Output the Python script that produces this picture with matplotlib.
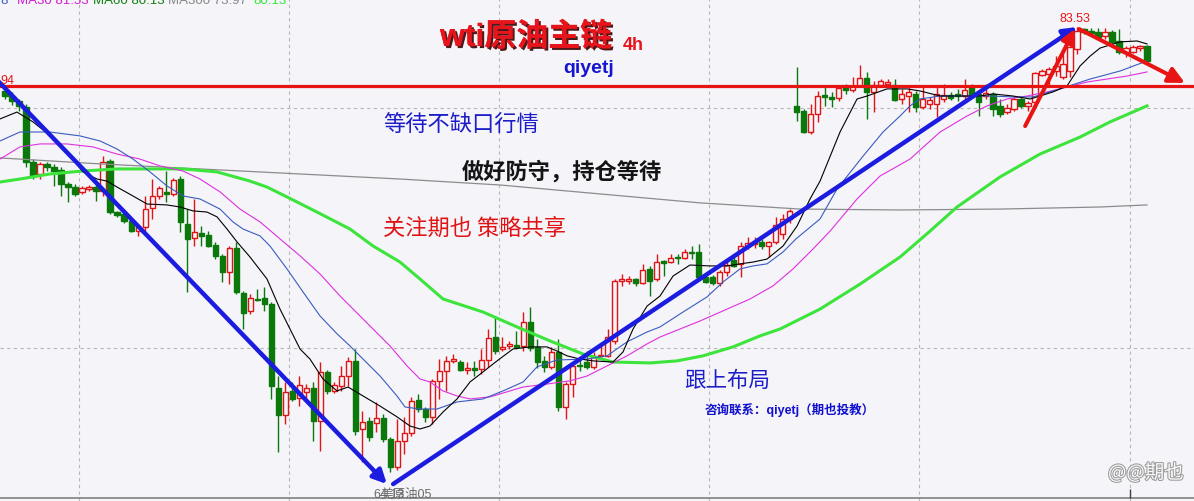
import matplotlib.pyplot as plt
import matplotlib.patheffects as pe

plt.rcParams['font.family'] = ['Liberation Sans', 'Noto Sans CJK SC', 'DejaVu Sans']

W, H = 1194, 502
BG = '#f4f4f9'

# 4h candles, wti crude (price)
opens = [
    80.74, 80.52, 80.30, 80.04, 77.64, 77.12, 77.56, 77.43, 77.29, 76.68,
    76.55, 76.34, 76.47, 76.55, 76.38, 77.69, 75.46, 75.38, 75.07, 74.63,
    74.81, 75.64, 76.16, 76.34, 76.25, 76.90, 74.94, 74.33, 74.55, 74.46,
    74.02, 73.55, 72.85, 73.89, 71.93, 71.15, 71.67, 71.71, 71.45, 67.79,
    66.61, 67.66, 67.35, 67.61, 67.79, 66.35, 68.49, 67.66, 67.88, 68.31,
    68.97, 66.00, 66.35, 66.26, 66.48, 65.57, 64.35, 65.48, 65.83, 67.27,
    66.87, 66.53, 68.10, 68.53, 68.97, 68.92, 68.57, 68.66, 68.62, 69.01,
    70.01, 69.49, 69.62, 69.66, 69.62, 70.67, 69.58, 68.97, 68.71, 69.36,
    66.96, 67.96, 68.79, 68.92, 68.71, 69.19, 69.19, 69.84, 72.45, 72.45,
    72.54, 72.37, 72.98, 72.54, 73.33, 73.28, 73.50, 73.46, 73.72, 73.72,
    72.63, 72.63, 72.37, 72.85, 73.37, 73.20, 73.98, 74.07, 74.16, 73.98,
    74.16, 74.50, 75.16, 80.09, 79.87, 78.95, 79.74, 80.56, 80.48, 80.43,
    80.87, 80.78, 80.96, 81.31, 80.70, 81.00, 81.04, 81.00, 80.39, 80.52,
    80.61, 80.04, 80.17, 80.17, 80.39, 80.56, 80.61, 80.52, 80.91, 80.61,
    80.52, 80.61, 80.09, 79.82, 79.95, 80.39, 80.09, 80.26, 81.44, 81.48,
    81.61, 81.35, 81.61, 82.57, 83.44, 83.35, 83.31, 83.14, 83.31, 82.92,
    82.40, 82.44, 82.61, 82.70]
closes = [
    80.52, 80.30, 80.09, 77.64, 77.03, 77.56, 77.43, 77.25, 76.68, 76.55,
    76.25, 76.51, 76.55, 76.38, 77.64, 75.46, 75.33, 75.07, 74.63, 74.81,
    75.59, 76.16, 76.51, 76.25, 76.86, 75.03, 74.29, 74.59, 74.42, 73.98,
    73.55, 72.85, 73.89, 71.98, 71.06, 71.71, 71.63, 71.45, 67.88, 66.61,
    67.61, 67.31, 67.92, 67.79, 66.35, 68.49, 67.66, 67.92, 68.31, 68.97,
    65.92, 66.31, 65.65, 66.48, 65.57, 64.35, 65.48, 65.83, 67.22, 66.87,
    66.53, 68.10, 68.53, 68.97, 69.05, 68.57, 68.66, 68.57, 69.01, 69.97,
    69.40, 69.58, 69.71, 69.58, 70.67, 69.53, 68.92, 68.71, 69.36, 66.96,
    67.96, 68.75, 68.75, 68.71, 69.19, 69.23, 70.01, 72.45, 72.54, 72.54,
    72.37, 72.93, 72.45, 73.28, 73.24, 73.46, 73.46, 73.72, 73.68, 72.63,
    72.41, 72.37, 72.85, 73.15, 73.11, 73.98, 74.11, 74.16, 73.98, 74.16,
    74.90, 75.16, 75.51, 79.82, 78.95, 79.74, 80.52, 80.48, 80.41, 80.87,
    80.78, 80.96, 81.31, 80.70, 81.00, 81.18, 81.13, 80.35, 80.61, 80.70,
    80.04, 80.39, 80.35, 80.61, 80.56, 80.43, 80.52, 80.78, 80.52, 80.26,
    80.65, 79.95, 79.74, 80.00, 80.39, 80.09, 80.22, 81.52, 81.61, 81.70,
    81.83, 81.92, 82.66, 83.35, 83.31, 83.27, 83.09, 83.31, 82.88, 82.44,
    82.61, 82.66, 82.70, 82.05]
highs = [
    80.91, 80.70, 80.39, 80.17, 77.77, 77.64, 77.64, 77.56, 77.43, 76.77,
    76.68, 76.60, 76.64, 76.68, 77.90, 77.77, 75.51, 75.46, 75.16, 74.94,
    76.16, 76.90, 76.60, 77.25, 76.95, 77.03, 75.59, 76.03, 74.85, 74.63,
    74.16, 73.63, 73.98, 74.16, 72.02, 71.89, 72.11, 72.19, 71.54, 68.31,
    68.05, 68.05, 68.31, 67.96, 68.05, 68.92, 68.57, 68.05, 68.75, 69.14,
    69.49, 66.79, 66.53, 67.18, 66.66, 65.65, 66.44, 66.53, 67.40, 67.53,
    66.96, 68.18, 69.05, 69.19, 69.27, 69.01, 68.92, 68.97, 69.49, 70.36,
    70.89, 70.01, 69.84, 70.27, 71.10, 71.32, 69.93, 69.19, 69.58, 69.93,
    68.05, 68.97, 69.05, 69.40, 69.36, 69.62, 70.36, 72.54, 72.76, 72.67,
    72.59, 73.20, 73.11, 73.63, 73.37, 73.63, 73.63, 73.85, 73.98, 74.07,
    72.72, 72.72, 72.93, 73.33, 73.50, 74.16, 74.37, 74.37, 74.29, 74.20,
    75.25, 75.38, 75.59, 81.79, 79.95, 80.17, 80.74, 80.96, 80.70, 80.96,
    81.04, 81.35, 81.87, 81.57, 81.18, 81.26, 81.26, 81.26, 80.83, 80.91,
    80.74, 80.91, 80.48, 80.96, 81.04, 80.70, 80.83, 81.26, 81.04, 80.70,
    81.04, 80.70, 80.39, 80.17, 80.48, 80.48, 80.30, 81.57, 81.70, 81.79,
    82.26, 82.35, 82.70, 83.53, 83.50, 83.49, 83.48, 83.47, 83.40, 83.45,
    82.70, 82.74, 82.74, 82.74]
lows = [
    80.39, 80.13, 79.87, 77.43, 76.90, 76.90, 77.25, 76.60, 76.16, 75.90,
    76.16, 76.25, 76.38, 75.94, 76.16, 75.38, 75.25, 74.98, 74.59, 74.42,
    74.63, 75.16, 76.03, 75.90, 76.16, 74.59, 71.98, 73.98, 73.98, 73.94,
    73.41, 72.41, 72.32, 71.89, 70.36, 71.02, 71.58, 71.15, 67.31, 65.00,
    66.22, 67.22, 67.00, 67.18, 65.48, 65.04, 67.53, 67.57, 67.66, 67.88,
    65.74, 64.56, 65.48, 65.87, 65.44, 64.13, 64.22, 64.91, 65.70, 66.74,
    66.31, 66.22, 67.31, 67.66, 68.88, 68.53, 68.40, 68.31, 68.40, 68.71,
    69.27, 69.40, 69.49, 69.49, 69.40, 69.40, 68.66, 68.49, 68.62, 66.79,
    66.44, 67.40, 68.53, 68.62, 68.62, 69.14, 69.14, 69.71, 72.24, 72.32,
    72.24, 72.32, 71.80, 72.45, 72.67, 73.24, 73.20, 73.41, 73.41, 72.59,
    72.37, 72.28, 72.24, 72.67, 73.07, 72.63, 73.85, 73.89, 73.85, 73.50,
    74.07, 74.29, 74.98, 79.43, 78.91, 78.86, 79.39, 80.09, 80.04, 80.30,
    80.61, 80.70, 80.91, 79.52, 79.82, 80.91, 80.96, 80.30, 80.17, 79.82,
    79.82, 79.95, 79.95, 79.61, 80.26, 80.35, 80.30, 80.39, 80.43, 79.65,
    80.39, 79.65, 79.61, 79.74, 79.87, 80.00, 79.87, 80.04, 81.39, 80.96,
    81.39, 81.26, 81.35, 82.35, 83.22, 83.14, 83.01, 83.01, 82.79, 82.35,
    82.22, 82.40, 82.48, 82.00]

# moving averages (candle index, price)
ma_black_x = [-0.71, 1.71, 4.0, 7.42, 8.85, 11.13, 13.13, 14.56, 15.99, 18.27, 20.27, 23.12,
              24.98, 26.83, 28.83, 30.26, 31.69, 33.11, 34.97, 37.40, 39.25, 40.68, 42.11,
              43.53, 45.39, 47.39, 48.96, 51.10, 53.53, 55.95, 57.81, 59.23, 60.66, 62.52,
              64.52, 66.37, 68.23, 70.23, 72.51, 74.94, 77.36, 78.79, 80.22, 82.07, 83.93,
              86.78, 88.21, 89.64, 91.64, 93.49, 95.35, 97.77, 100.63, 103.05, 104.91,
              106.77, 108.76, 111.05, 113.05, 114.90, 116.33, 119.18, 121.61, 123.04,
              125.89, 128.75, 130.60, 133.46, 136.31, 139.17, 141.02, 143.88, 146.30,
              147.73, 149.59, 151.58, 153.44, 154.87, 156.29, 159.15, 161.58, 163.0]
ma_black_y = [79.52, 79.82, 79.39, 78.56, 78.08, 77.21, 76.90, 76.81, 76.55, 76.16, 75.81, 75.77,
              75.68, 75.51, 75.46, 75.25, 74.72, 74.16, 73.50, 72.54, 71.23, 70.36, 69.49,
              69.05, 68.18, 67.66, 67.83, 67.44, 67.00, 66.53, 66.13, 66.00, 66.13, 66.74,
              67.31, 68.05, 68.49, 68.97, 69.49, 69.58, 69.58, 69.40, 69.19, 69.05, 68.97,
              68.92, 69.36, 70.36, 71.36, 71.80, 72.67, 73.15, 73.11, 73.11, 73.20,
              73.28, 73.41, 73.98, 74.85, 76.03, 76.81, 78.95, 80.39, 80.52,
              80.83, 80.83, 80.74, 80.52, 80.52, 80.52, 80.61, 80.52, 80.39,
              80.52, 80.70, 80.96, 81.83, 82.26, 82.61, 82.88, 82.92, 82.79]

ma_blue_x = [-0.71, 2.14, 6.42, 10.71, 13.56, 15.99, 18.27, 20.70, 23.12, 25.41, 27.83, 30.69,
             32.54, 33.97, 36.40, 37.82, 40.25, 42.53, 44.96, 47.39, 49.24, 51.10, 53.53,
             55.95, 57.09, 59.23, 61.66, 64.52, 68.23, 71.08, 73.94, 75.94, 78.79, 83.07,
             85.93, 88.78, 91.64, 93.49, 96.77, 100.20, 102.48, 104.91, 106.77, 108.76,
             111.05, 112.90, 116.33, 118.76, 122.47, 125.32, 127.75, 129.17, 130.60,
             133.46, 140.59, 143.88, 146.73, 150.58, 154.87, 159.15, 163.0]
ma_blue_y = [78.56, 78.95, 78.95, 78.78, 78.56, 78.21, 77.77, 77.21, 76.60, 76.16, 76.03, 75.59,
             75.03, 74.72, 74.42, 73.98, 72.98, 71.98, 70.93, 70.15, 69.62, 69.05, 68.31,
             67.44, 66.96, 66.87, 66.87, 67.18, 67.31, 67.66, 68.05, 68.71, 69.01, 69.05,
             69.19, 69.80, 70.23, 70.45, 71.10, 71.76, 72.41, 72.98, 73.11, 73.20,
             73.72, 74.29, 75.16, 76.47, 77.90, 78.95, 79.65, 80.09, 80.39,
             80.52, 80.52, 80.48, 80.48, 80.83, 81.26, 81.61, 82.05]

ma30_x = [-0.71, 2.14, 5.0, 8.85, 12.56, 15.99, 19.27, 22.12, 25.41, 27.83, 30.69, 33.54,
          36.40, 39.25, 42.11, 44.96, 47.82, 52.53, 54.95, 57.38, 59.23, 60.66, 62.52,
          64.52, 66.37, 69.23, 70.65, 73.94, 77.36, 80.64, 83.07, 85.93, 88.78, 91.64,
          93.49, 99.20, 106.34, 109.62, 112.47, 115.33, 117.76, 121.61, 124.89, 129.17,
          133.46, 137.31, 140.17, 143.02, 145.87, 148.73, 151.58, 154.44, 157.29, 160.15, 163.0]
ma30_y = [77.77, 78.30, 78.43, 78.43, 78.30, 77.99, 77.77, 77.47, 77.25, 76.90, 76.34, 75.59,
          75.03, 74.29, 73.55, 72.76, 71.80, 70.36, 69.62, 68.75, 68.18, 68.05, 67.66,
          67.44, 67.31, 67.40, 67.53, 67.83, 67.96, 68.10, 68.31, 68.75, 69.19, 69.71,
          70.01, 70.71, 71.67, 72.24, 72.98, 73.85, 74.63, 76.03, 77.03, 77.77,
          78.95, 79.65, 80.09, 80.39, 80.52, 80.70, 80.91, 81.13, 81.26, 81.39, 81.57]

ma60_x = [-0.71, 2.14, 6.42, 11.13, 15.99, 20.70, 25.41, 30.26, 34.97, 37.40, 40.25, 44.53,
          49.24, 52.53, 56.38, 59.23, 62.52, 68.23, 73.08, 77.79, 82.50, 86.78, 92.06,
          95.92, 99.63, 103.91, 107.76, 110.62, 116.33, 122.04, 127.75, 132.03, 135.88,
          142.02, 147.73, 153.44, 157.72, 163.0]
ma60_y = [76.77, 76.90, 77.12, 77.25, 77.34, 77.34, 77.34, 77.21, 76.81, 76.55, 76.12, 75.46,
          74.72, 73.98, 73.28, 72.54, 71.67, 71.10, 70.45, 69.84, 69.27, 68.92, 68.88,
          68.97, 69.19, 69.58, 70.06, 70.36, 71.23, 72.32, 73.50, 74.63, 75.68,
          76.99, 77.99, 78.73, 79.39, 80.09]

ma300_x = [-0.71, 13.56, 27.83, 42.11, 56.38, 70.65, 84.93, 99.20, 113.48, 127.75, 142.02, 156.29, 163.0]
ma300_y = [77.82, 77.56, 77.34, 77.12, 76.90, 76.64, 76.25, 75.86, 75.59, 75.55, 75.59, 75.68, 75.77]

resist = 80.94
peak, bottom = 83.53, 64.13

fig = plt.figure(figsize=(W / 100, H / 100), dpi=100, facecolor=BG)
ax = fig.add_axes([0, 0, 1, 1])
ax.set_facecolor(BG)
ax.set_xlim(-0.71, 169.7)
ax.set_ylim(62.86, 84.75)
ax.axis('off')


def px(x, y):
    return x / W, 1 - y / H


# dotted grid
for gx in [10.5, 40.5, 70.5, 100.5, 130.5, 160.5]:
    ax.axvline(gx, color='#b8b8b8', lw=0.8, ls=(0, (3, 3)), zorder=1)
for gy in [80.0, 69.53]:
    ax.axhline(gy, color='#b8b8b8', lw=0.8, ls=(0, (3, 3)), zorder=1)

# candles
for i in range(len(opens)):
    o, c, h, l = opens[i], closes[i], highs[i], lows[i]
    up = c >= o
    col = '#e01414' if up else '#0a780a'
    ax.vlines(i, l, h, color=col, lw=1, zorder=2)
    ax.bar(i, max(abs(c - o), 0.04), bottom=min(o, c), width=0.74,
           color=BG if up else col, edgecolor=col, linewidth=1, zorder=3)

ax.plot(ma300_x, ma300_y, color='#8c8c8c', lw=0.9, zorder=4)
ax.plot(ma60_x, ma60_y, color='#3ce43c', lw=2.2, zorder=4)
ax.plot(ma30_x, ma30_y, color='#e030e0', lw=0.8, zorder=4)
ax.plot(ma_blue_x, ma_blue_y, color='#3a5cc0', lw=0.8, zorder=4)
ax.plot(ma_black_x, ma_black_y, color='black', lw=0.8, zorder=4)

ax.axhline(resist, color='#e81414', lw=2.3, zorder=5)

# trend lines
blue = '#1c1ce0'
arr = dict(arrowstyle='-|>', color=blue, lw=3.2, mutation_scale=20, shrinkA=0, shrinkB=0)
ax.annotate('', xy=(54.5, 63.6), xytext=(-1.0, 81.18), arrowprops=arr, zorder=6)
ax.annotate('', xy=(153.0, peak), xytext=(55.4, 63.6), arrowprops=arr, zorder=6)
red = '#e81414'
arr_r = dict(arrowstyle='-|>', color=red, lw=2.9, mutation_scale=20, shrinkA=0, shrinkB=0)
ax.annotate('', xy=(152.7, 83.44), xytext=(145.6, 79.21), arrowprops=arr_r, zorder=6)
arr_r2 = dict(arr_r, mutation_scale=24)
ax.annotate('', xy=(168.4, 81.09), xytext=(153.3, 83.44), arrowprops=arr_r2, zorder=6)

# bottom border
ax.axhline(62.97, color='#808080', lw=1.2, zorder=5)
ax.vlines(160.5, 62.97, 63.39, color='#404040', lw=1, zorder=5)

T = ax.transAxes
# legend line at the top (cut off)
for label, color, x in [('8', '#3a5cc0', 0), ('MA30 81.53', '#d020d0', 17),
                        ('MA60 80.13', '#108010', 93), ('MA300 73.97', '#888888', 168),
                        ('80.13', '#3ce43c', 253)]:
    ax.text(*px(x, 4), label, color=color, fontsize=9.5, transform=T, va='baseline', zorder=8)

ax.text(*px(0, 84), '94', color=red, fontsize=9, transform=T, va='baseline', zorder=8)
ax.text(*px(1075, 22), f'{peak:.2f}', color=red, fontsize=9, transform=T,
        ha='center', va='baseline', zorder=8)
ax.text(*px(373, 498), f'{bottom:.2f}', color='#6a6a6a', fontsize=9, transform=T,
        va='baseline', zorder=8)
ax.text(*px(380, 498), '美原油05', color='#6a6a6a', fontsize=9, transform=T,
        va='baseline', zorder=8)

shadow = [pe.withSimplePatchShadow(offset=(1.5, -1.5), shadow_rgbFace='#3a0000', alpha=0.9),
          pe.Normal()]
ax.text(*px(440, 47), 'wti原油主链', color='#e8141c', fontsize=23, fontweight='bold',
        transform=T, va='baseline', path_effects=shadow, zorder=9)
ax.text(*px(623, 50), '4h', color='#e8141c', fontsize=13, fontweight='bold',
        transform=T, va='baseline', zorder=9)
ax.text(*px(563, 73), 'qiyetj', color='#1515d0', fontsize=14, fontweight='bold',
        transform=T, va='baseline', zorder=9)

cjk = 'Noto Sans CJK SC'
ax.text(*px(383, 125), '等待不缺口行情', color='#1c1cc8', fontsize=16, family=cjk,
        transform=T, va='center', zorder=9)
ax.text(*px(462, 172), '做好防守，持仓等待', color='#141414', fontsize=16, family=cjk,
        fontweight='bold', transform=T, va='center', zorder=9)
ax.text(*px(383, 228), '关注期也 策略共享', color='#e01414', fontsize=16, family=cjk,
        transform=T, va='center', zorder=9)
ax.text(*px(684, 381), '跟上布局', color='#1c1cc8', fontsize=15.5, family=cjk,
        transform=T, va='center', zorder=9)
ax.text(*px(705, 410), '咨询联系：qiyetj（期也投教）', color='#1010d0', fontsize=9,
        fontweight='bold', transform=T, va='center', zorder=9)
ax.text(*px(1108, 474), '@@期也', color='#fafafa', fontsize=14, family=cjk,
        transform=T, va='center', zorder=9,
        path_effects=[pe.withStroke(linewidth=1.5, foreground='#9a9a9a')])

plt.savefig('out.png', dpi=100, facecolor=BG)
